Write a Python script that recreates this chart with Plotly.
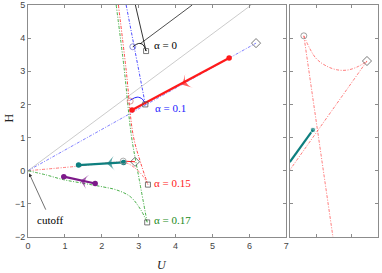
import plotly.graph_objects as go

# ---------------- data (main panel, U-H plane) ----------------
# near-vertical branches from the top edge down to the end squares
a0_top_U = [2.91, 3.20]
a0_top_H = [5.00, 3.61]
a01_top_U = [2.66, 2.92, 3.18]
a01_top_H = [5.00, 3.50, 2.00]
a015_top_U = [2.45, 2.66, 2.85, 3.05, 3.25]
a015_top_H = [5.00, 3.04, 1.07, 0.25, -0.42]
a017_top_U = [2.39, 2.61, 2.80, 3.02, 3.23]
a017_top_H = [5.00, 3.04, 1.07, -0.30, -1.56]

# branches from the origin
gray_ray_U = [0.0, 6.05]
gray_ray_H = [0.0, 5.00]
blue_ray_U = [0.0, 6.18]
blue_ray_H = [0.0, 3.85]
red_curve_U = [0.0, 1.30, 2.50, 2.70, 2.90, 3.10, 3.25]
red_curve_H = [0.0, 0.13, 0.26, 0.22, 0.08, -0.14, -0.42]
green_curve_U = [0.0, 0.50, 0.96, 1.50, 2.04, 2.40, 2.77, 3.04, 3.23]
green_curve_H = [0.0, -0.13, -0.27, -0.38, -0.49, -0.58, -0.78, -1.15, -1.56]

# small arcs near the labels
a0_arc_U = [2.84, 3.00, 3.12, 3.20]
a0_arc_H = [3.74, 3.84, 3.80, 3.61]
a0_ray_U = [3.04, 4.45]
a0_ray_H = [3.83, 5.00]
a01_arc_U = [2.77, 2.96, 3.10, 3.18]
a01_arc_H = [2.13, 2.22, 2.16, 2.00]
red_link_U = [2.58, 2.90]
red_link_H = [0.29, 0.27]

# thick trajectories (start, end) and arrow position
red_traj_U = [5.45, 2.82]
red_traj_H = [3.40, 1.83]
red_arrow = (4.18, 2.59)
teal_traj_U = [2.59, 1.37]
teal_traj_H = [0.25, 0.17]
teal_arrow = (2.14, 0.22)
purple_traj_U = [1.82, 0.97]
purple_traj_H = [-0.385, -0.18]
purple_arrow = (1.42, -0.30)

# open markers
square_U = [3.20, 3.18, 3.25, 3.23]
square_H = [3.61, 2.00, -0.42, -1.56]
circle_U = [2.84, 2.77, 2.58]
circle_H = [3.74, 2.10, 0.29]
circle_col = ["#7a7acc", "#d08080", "#999999"]
diamond_U = [6.18, 2.90]
diamond_H = [3.85, 0.27]

# labels
labels = ["α = 0", "α = 0.1", "α = 0.15", "α = 0.17"]
label_U = [3.36, 3.40, 3.36, 3.36]
label_H = [3.80, 1.90, -0.36, -1.48]
label_col = ["black", "#2020ff", "#ff2020", "#1a8a1a"]

# ---------------- data (inset panel) ----------------
in_circle = (0.64, 4.07)
in_diamond = (2.44, 3.31)
in_arc_x = [0.64, 0.98, 1.30, 1.61, 1.90, 2.20, 2.44]
in_arc_y = [4.07, 3.40, 3.15, 3.04, 3.04, 3.15, 3.31]
in_line1_x = [2.44, 0.24]
in_line1_y = [3.31, 0.02]
in_line2_x = [0.64, 1.47]
in_line2_y = [4.07, -2.00]
in_teal_x = [0.24, 0.90]
in_teal_y = [0.26, 1.23]

RED = "#ff1a1a"
TEAL = "#0e7f7f"
PURPLE = "#7d1a8a"
GREEN = "#1a9a1a"
BLUE = "#2020ff"
DD = "3px,1.5px,1px,1.5px"
SERIF = "Liberation Serif"

fig = go.Figure()

def line(x, y, color, width=0.8, dash="solid", xa="x", ya="y", opacity=1.0, shape="linear"):
    fig.add_trace(go.Scatter(x=x, y=y, mode="lines", xaxis=xa, yaxis=ya,
                             line=dict(color=color, width=width, dash=dash, shape=shape),
                             opacity=opacity, showlegend=False, hoverinfo="skip"))

# rays from origin
line(gray_ray_U, gray_ray_H, "#b5b5b5", 0.7)
line(blue_ray_U, blue_ray_H, BLUE, 0.7, DD, opacity=0.8)
line(red_curve_U, red_curve_H, RED, 0.8, DD, opacity=0.75, shape="spline")
line(green_curve_U, green_curve_H, GREEN, 0.8, DD, shape="spline")
line(red_link_U, red_link_H, RED, 1.0)

# near vertical branches
line(a0_top_U, a0_top_H, "black", 0.8)
line(a01_top_U, a01_top_H, BLUE, 0.8, DD)
line(a015_top_U, a015_top_H, RED, 0.8, DD, shape="spline")
line(a017_top_U, a017_top_H, GREEN, 0.8, DD, shape="spline")

# arcs
line(a0_arc_U, a0_arc_H, "black", 0.9, shape="spline")
line(a0_ray_U, a0_ray_H, "black", 0.7)
line(a01_arc_U, a01_arc_H, BLUE, 1.0, shape="spline")

# thick trajectories
for (xs, ys, arr, col) in [(red_traj_U, red_traj_H, red_arrow, RED),
                           (teal_traj_U, teal_traj_H, teal_arrow, TEAL),
                           (purple_traj_U, purple_traj_H, purple_arrow, PURPLE)]:
    fig.add_trace(go.Scatter(x=xs, y=ys, mode="lines+markers",
                             line=dict(color=col, width=2.2),
                             marker=dict(color=col, size=5.5, symbol="circle"),
                             showlegend=False, hoverinfo="skip"))
    fig.add_trace(go.Scatter(x=[xs[0], arr[0]], y=[ys[0], arr[1]], mode="markers",
                             marker=dict(color=col, size=[0, 11], symbol="arrow-wide",
                                         angleref="previous", line=dict(width=0)),
                             showlegend=False, hoverinfo="skip"))

# open markers
fig.add_trace(go.Scatter(x=square_U, y=square_H, mode="markers",
                         marker=dict(symbol="square-open", size=5, color="#555555", line=dict(width=0.8)),
                         showlegend=False, hoverinfo="skip"))
fig.add_trace(go.Scatter(x=circle_U, y=circle_H, mode="markers",
                         marker=dict(symbol="circle-open", size=6, color=circle_col, line=dict(width=0.8)),
                         showlegend=False, hoverinfo="skip"))
fig.add_trace(go.Scatter(x=diamond_U, y=diamond_H, mode="markers",
                         marker=dict(symbol="diamond-open", size=7, color="#555555", line=dict(width=0.8)),
                         showlegend=False, hoverinfo="skip"))

# inset
line(in_arc_x, in_arc_y, RED, 0.8, DD, "x2", "y2", 0.7, shape="spline")
line(in_line1_x, in_line1_y, RED, 0.8, DD, "x2", "y2", 0.7)
line(in_line2_x, in_line2_y, RED, 0.8, DD, "x2", "y2", 0.7)
fig.add_trace(go.Scatter(x=in_teal_x, y=in_teal_y, mode="lines+markers", xaxis="x2", yaxis="y2",
                         line=dict(color=TEAL, width=2.2),
                         marker=dict(color=TEAL, size=[0, 5.5]), showlegend=False, hoverinfo="skip"))
fig.add_trace(go.Scatter(x=[in_circle[0]], y=[in_circle[1]], mode="markers", xaxis="x2", yaxis="y2",
                         marker=dict(symbol="circle-open", size=6, color="#888888", line=dict(width=0.8)),
                         showlegend=False, hoverinfo="skip"))
fig.add_trace(go.Scatter(x=[in_diamond[0]], y=[in_diamond[1]], mode="markers", xaxis="x2", yaxis="y2",
                         marker=dict(symbol="diamond-open", size=7, color="#555555", line=dict(width=0.8)),
                         showlegend=False, hoverinfo="skip"))

ann = []
for t, u, h, c in zip(labels, label_U, label_H, label_col):
    ann.append(dict(x=u, y=h, xref="x", yref="y", text=t, showarrow=False, xanchor="left",
                    font=dict(family=SERIF, size=11, color=c)))
ann.append(dict(x=0.03, y=-0.08, xref="x", yref="y", ax=0.50, ay=-1.22, axref="x", ayref="y",
                text="", showarrow=True, arrowhead=2, arrowsize=1, arrowwidth=0.7, arrowcolor="#333333"))
ann.append(dict(x=0.60, y=-1.49, xref="x", yref="y", text="cutoff", showarrow=False,
                font=dict(family=SERIF, size=11, color="black")))
ann.append(dict(x=0.383, y=-0.121, xref="paper", yref="paper", text="<i>U</i>", showarrow=False,
                xanchor="center", yanchor="middle",
                font=dict(family=SERIF, size=12, color="#222222")))
ann.append(dict(x=-0.0556, y=0.513, xref="paper", yref="paper", text="H", showarrow=False, textangle=-90,
                xanchor="center", yanchor="middle",
                font=dict(family=SERIF, size=12, color="#222222")))

axis_common = dict(showgrid=False, zeroline=False, showline=True, linecolor="#8c8c8c", linewidth=1,
                   mirror="ticks", ticks="inside", ticklen=3, tickcolor="#8c8c8c", automargin=False,
                   tickfont=dict(family="Liberation Sans", size=9, color="#444444"))

fig.update_layout(
    width=382, height=273,
    margin=dict(l=27.5, r=4, t=5, b=36),
    paper_bgcolor="white", plot_bgcolor="white",
    xaxis=dict(domain=[0, 0.738], range=[0, 7], dtick=1, **axis_common),
    yaxis=dict(range=[-2, 5], dtick=1, anchor="x", **axis_common),
    xaxis2=dict(domain=[0.748, 1], range=[0.24, 2.754], tickvals=[1, 2], showticklabels=False,
                anchor="y2", **axis_common),
    yaxis2=dict(range=[-2, 5], dtick=1, showticklabels=False, anchor="x2", **axis_common),
    annotations=ann,
)

fig.write_html("out.html", config={"displayModeBar": False},
               post_script="document.body.style.margin='0';")
